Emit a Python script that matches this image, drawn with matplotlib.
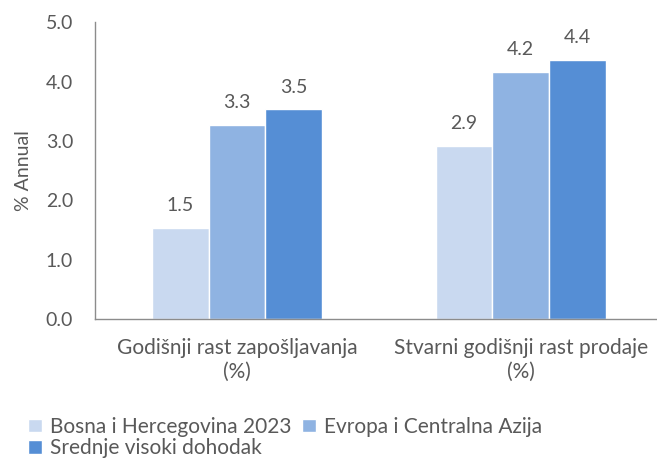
import matplotlib.pyplot as plt
import numpy as np

plt.rcParams['font.family'] = ['Lato', 'DejaVu Sans']

categories = ['Godišnji rast zapošljavanja\n(%)', 'Stvarni godišnji rast prodaje\n(%)']
series_names = ['Bosna i Hercegovina 2023', 'Evropa i Centralna Azija', 'Srednje visoki dohodak']
bih = [1.54, 2.91]
eca = [3.27, 4.16]
umi = [3.53, 4.36]
colors = ['#C9D9F0', '#8FB3E2', '#558ED5']
text_color = '#595959'

fig = plt.figure(figsize=(6.57, 4.58), dpi=100)
ax = fig.add_axes([0.145, 0.3035, 0.855, 0.648])

x = np.arange(len(categories))
width = 0.2
handles = []
for i, (vals, name) in enumerate(zip([bih, eca, umi], series_names)):
    bars = ax.bar(x + (i - 1) * width, vals, width, color=colors[i],
                  edgecolor='white', linewidth=1, label=name)
    handles.append(bars)
    for xi, v in zip(x + (i - 1) * width, vals):
        ax.annotate(f'{v:.1f}', (xi, v), xytext=(0, 10), textcoords='offset points',
                    ha='center', va='bottom', fontsize=14, color=text_color)

ax.set_xlim(-0.5, 1.48)
ax.set_ylim(0, 5)
ax.set_yticks(np.arange(0, 5.1, 1))
ax.set_yticklabels([f'{t:.1f}' for t in np.arange(0, 5.1, 1)])
ax.set_xticks(x)
ax.set_xticklabels(categories, fontsize=15)
ax.tick_params(axis='both', length=0, labelcolor=text_color)
ax.tick_params(axis='y', labelsize=14, pad=16)
ax.tick_params(axis='x', pad=14)
ax.set_ylabel('% Annual', fontsize=14, color=text_color, labelpad=10)

for s in ['top', 'right']:
    ax.spines[s].set_visible(False)
for s in ['left', 'bottom']:
    ax.spines[s].set_color('#8C8C8C')
    ax.spines[s].set_linewidth(1)

order = [0, 2, 1]
leg = fig.legend([handles[k] for k in order], [series_names[k] for k in order],
                 ncol=2, loc='upper left', bbox_to_anchor=(0.043, 0.09),
                 frameon=False, fontsize=15, handlelength=0.65, handleheight=0.65,
                 handletextpad=0.4, columnspacing=0.5, labelspacing=0.08,
                 borderpad=0, borderaxespad=0)
for t in leg.get_texts():
    t.set_color(text_color)

fig.savefig('out.png', dpi=100)
